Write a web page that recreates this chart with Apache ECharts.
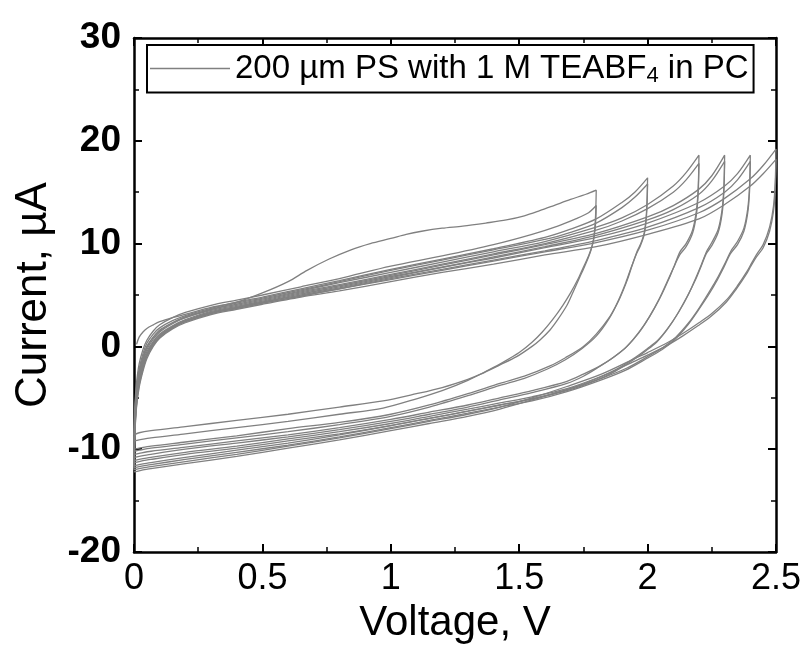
<!DOCTYPE html>
<html>
<head>
<meta charset="utf-8">
<script src="https://cdn.jsdelivr.net/npm/echarts@6/dist/echarts.min.js"></script>
<style>html,body{margin:0;padding:0;background:#fff;}#c{width:807px;height:657px;}</style>
</head>
<body>
<div id="c"></div>
<script>
// ---- data: [Voltage (V), Current (µA)] ----
const seriesName = '200 µm PS with 1 M TEABF4 in PC';
const xTicks = [0, 0.5, 1, 1.5, 2, 2.5];
const yTicks = [-20, -10, 0, 10, 20, 30];

const cycle18a = [[0.01,0.2],[0.02,0.9],[0.035,1.4],[0.05,1.75],[0.075,2.1],[0.1,2.4],[0.15,2.8],[0.21,3.2],[0.3,3.8],[0.4,4.3],[0.5,5.2],[0.6,6.3],[0.674,7.4],[0.76,8.5],[0.845,9.4],[0.92,10.0],[1.0,10.5],[1.06,10.9],[1.12,11.2],[1.2,11.5],[1.28,11.7],[1.37,12.0],[1.45,12.3],[1.52,12.7],[1.58,13.2],[1.635,13.7],[1.7,14.3],[1.76,14.8],[1.8,15.2],
 [1.797,12.5],[1.79,10.4],[1.78,9.4],[1.77,8.7],[1.75,7.5],[1.737,6.8],[1.71,5.3],[1.686,4.0],[1.65,2.6],[1.62,1.6],[1.58,0.6],[1.55,0],[1.49,-1.0],[1.425,-1.8],[1.35,-2.7],[1.3,-3.2],[1.2,-4.0],[1.1,-4.6],[0.97,-5.3],[0.8,-5.9],[0.6,-6.6],[0.4,-7.2],[0.2,-7.8],[0.066,-8.2],[0.02,-8.4],[0,-8.6]];
const cycle18b = [[0,-8.6],[0.004,-5.5],[0.01,-3.5],[0.02,-1.7],[0.035,-0.3],[0.05,0.6],[0.075,1.5],[0.1,2.1],[0.15,2.8],[0.2,3.3],[0.3,4.0],[0.4,4.5],[0.5,5.0],[0.65,5.8],[0.8,6.6],[1.0,7.8],[1.2,8.8],[1.4,9.9],[1.55,10.9],[1.65,11.7],[1.72,12.4],[1.77,13.0],[1.8,13.7],
 [1.796,11.5],[1.785,9.9],[1.77,8.8],[1.75,7.7],[1.73,6.6],[1.7,5.2],[1.67,4.0],[1.63,2.6],[1.59,1.4],[1.55,0.4],[1.5,-0.6],[1.44,-1.5],[1.38,-2.3],[1.3,-3.3],[1.2,-4.3],[1.1,-5.1],[0.97,-6.0],[0.8,-6.6],[0.6,-7.3],[0.4,-7.9],[0.2,-8.5],[0.066,-8.9],[0.02,-9.1],[0,-9.2]];
const cycle20a = [[0,-9.2],[0.004,-6.0],[0.01,-4.0],[0.02,-2.2],[0.035,-0.7],[0.05,0.3],[0.075,1.2],[0.1,1.8],[0.15,2.5],[0.2,3.0],[0.3,3.7],[0.4,4.3],[0.5,4.8],[0.65,5.6],[0.8,6.4],[1.0,7.5],[1.2,8.5],[1.4,9.5],[1.6,10.6],[1.7,11.4],[1.8,12.4],[1.9,14.0],[1.95,15.0],[2.0,16.4],
 [1.996,13.2],[1.988,11.2],[1.975,10.1],[1.96,9.3],[1.94,7.9],[1.92,6.4],[1.89,4.6],[1.853,2.9],[1.8,1.2],[1.75,0],[1.68,-1.1],[1.62,-1.9],[1.52,-2.9],[1.425,-3.6],[1.3,-4.6],[1.15,-5.7],[1.0,-6.6],[0.8,-7.4],[0.6,-8.0],[0.4,-8.7],[0.2,-9.3],[0.066,-9.7],[0.02,-9.9],[0,-10.0]];
const cycle20b = [[0,-10.0],[0.004,-6.5],[0.01,-4.3],[0.02,-2.5],[0.035,-1.0],[0.05,0.0],[0.075,0.9],[0.1,1.6],[0.15,2.3],[0.2,2.9],[0.3,3.6],[0.4,4.2],[0.5,4.7],[0.65,5.5],[0.8,6.3],[1.0,7.4],[1.2,8.4],[1.4,9.4],[1.6,10.4],[1.7,11.1],[1.8,12.0],[1.9,13.5],[1.95,14.5],[2.0,15.8],
 [1.996,12.8],[1.987,10.9],[1.972,9.8],[1.955,8.9],[1.935,7.6],[1.915,6.2],[1.885,4.4],[1.85,2.7],[1.8,1.0],[1.745,-0.2],[1.68,-1.3],[1.61,-2.2],[1.52,-3.1],[1.425,-3.8],[1.3,-4.8],[1.15,-5.9],[1.0,-6.8],[0.8,-7.6],[0.6,-8.3],[0.4,-8.9],[0.2,-9.5],[0.066,-9.9],[0.02,-10.1],[0,-10.2]];
const cycle22a = [[0,-10.2],[0.004,-6.8],[0.01,-4.6],[0.02,-2.7],[0.035,-1.1],[0.05,-0.1],[0.075,0.9],[0.1,1.5],[0.15,2.3],[0.2,2.8],[0.3,3.6],[0.4,4.1],[0.5,4.6],[0.65,5.4],[0.8,6.2],[1.0,7.2],[1.2,8.2],[1.4,9.2],[1.6,10.2],[1.8,11.6],[1.9,12.5],[2.0,13.8],[2.1,15.6],[2.15,16.9],[2.2,18.6],
 [2.197,15.4],[2.19,13.2],[2.175,11.3],[2.15,10.0],[2.126,9.2],[2.105,7.9],[2.087,6.8],[2.05,4.8],[2.01,3.0],[1.97,1.5],[1.92,0],[1.87,-1.0],[1.815,-1.9],[1.75,-2.7],[1.686,-3.4],[1.55,-4.3],[1.425,-5.0],[1.3,-5.7],[1.15,-6.4],[1.0,-7.1],[0.8,-7.9],[0.6,-8.6],[0.4,-9.2],[0.2,-9.8],[0.066,-10.2],[0.02,-10.4],[0,-10.5]];
const cycle22b = [[0,-10.5],[0.004,-7.0],[0.01,-4.8],[0.02,-2.9],[0.035,-1.3],[0.05,-0.3],[0.075,0.7],[0.1,1.4],[0.15,2.2],[0.2,2.8],[0.3,3.5],[0.4,4.0],[0.5,4.5],[0.65,5.3],[0.8,6.0],[1.0,7.0],[1.2,8.0],[1.4,9.0],[1.6,10.0],[1.8,11.3],[1.9,12.2],[2.0,13.4],[2.1,15.0],[2.15,16.2],[2.2,17.8],
 [2.197,14.9],[2.19,12.8],[2.175,11.0],[2.15,9.7],[2.125,8.9],[2.1,7.6],[2.08,6.5],[2.045,4.6],[2.005,2.8],[1.965,1.3],[1.915,-0.1],[1.865,-1.1],[1.81,-2.0],[1.75,-2.9],[1.686,-3.6],[1.55,-4.5],[1.425,-5.2],[1.3,-5.9],[1.15,-6.6],[1.0,-7.3],[0.8,-8.1],[0.6,-8.8],[0.4,-9.4],[0.2,-10.0],[0.066,-10.5],[0.02,-10.7],[0,-10.8]];
const cycle23a = [[0,-10.8],[0.004,-7.3],[0.01,-5.0],[0.02,-3.1],[0.035,-1.5],[0.05,-0.5],[0.075,0.5],[0.1,1.2],[0.15,2.0],[0.2,2.6],[0.3,3.4],[0.4,3.9],[0.5,4.4],[0.65,5.2],[0.8,5.9],[1.0,6.9],[1.2,7.9],[1.4,8.9],[1.6,9.9],[1.8,11.0],[2.0,12.6],[2.1,13.7],[2.2,15.3],[2.25,16.6],[2.3,18.6],
 [2.297,15.5],[2.29,13.3],[2.275,11.4],[2.25,10.1],[2.231,9.3],[2.21,8.0],[2.19,6.8],[2.16,5.1],[2.12,3.3],[2.08,1.8],[2.04,0.6],[2.0,-0.2],[1.95,-1.1],[1.88,-2.2],[1.8,-3.1],[1.686,-4.1],[1.55,-4.9],[1.425,-5.5],[1.3,-6.1],[1.15,-6.8],[1.0,-7.5],[0.8,-8.3],[0.6,-9.0],[0.4,-9.7],[0.2,-10.3],[0.066,-10.8],[0.02,-11.0],[0,-11.1]];
const cycle23b = [[0,-11.1],[0.004,-7.5],[0.01,-5.2],[0.02,-3.3],[0.035,-1.7],[0.05,-0.7],[0.075,0.4],[0.1,1.1],[0.15,1.9],[0.2,2.5],[0.3,3.3],[0.4,3.8],[0.5,4.3],[0.65,5.1],[0.8,5.8],[1.0,6.8],[1.2,7.7],[1.4,8.7],[1.6,9.7],[1.8,10.8],[2.0,12.3],[2.1,13.3],[2.2,14.8],[2.25,16.1],[2.3,18.0],
 [2.297,15.0],[2.29,12.9],[2.275,11.1],[2.25,9.8],[2.228,9.0],[2.207,7.7],[2.187,6.5],[2.155,4.9],[2.115,3.1],[2.075,1.6],[2.035,0.4],[1.995,-0.4],[1.945,-1.3],[1.875,-2.4],[1.8,-3.3],[1.686,-4.3],[1.55,-5.1],[1.425,-5.7],[1.3,-6.3],[1.15,-7.0],[1.0,-7.7],[0.8,-8.5],[0.6,-9.2],[0.4,-9.9],[0.2,-10.5],[0.066,-11.0],[0.02,-11.2],[0,-11.3]];
const cycle24a = [[0,-11.3],[0.004,-7.7],[0.01,-5.3],[0.02,-3.4],[0.035,-1.8],[0.05,-0.8],[0.075,0.3],[0.1,1.0],[0.15,1.9],[0.2,2.5],[0.3,3.3],[0.4,3.8],[0.5,4.3],[0.65,5.0],[0.8,5.7],[1.0,6.7],[1.2,7.7],[1.4,8.6],[1.6,9.6],[1.8,10.6],[2.0,12.0],[2.2,14.0],[2.3,15.6],[2.35,16.8],[2.4,18.6],
 [2.397,15.6],[2.39,13.4],[2.375,11.5],[2.35,10.2],[2.325,9.3],[2.3,8.0],[2.275,6.8],[2.24,5.3],[2.2,3.7],[2.16,2.3],[2.11,0.9],[2.06,-0.1],[2.0,-1.0],[1.92,-2.1],[1.82,-3.1],[1.686,-4.2],[1.55,-5.1],[1.425,-5.7],[1.3,-6.3],[1.15,-7.0],[1.0,-7.7],[0.8,-8.6],[0.6,-9.4],[0.4,-10.1],[0.2,-10.8],[0.066,-11.3],[0.02,-11.5],[0,-11.6]];
const cycle24b = [[0,-11.6],[0.004,-7.9],[0.01,-5.5],[0.02,-3.6],[0.035,-2.0],[0.05,-0.9],[0.075,0.2],[0.1,0.9],[0.15,1.8],[0.2,2.4],[0.3,3.2],[0.4,3.7],[0.5,4.2],[0.65,4.9],[0.8,5.6],[1.0,6.6],[1.2,7.5],[1.4,8.4],[1.6,9.3],[1.8,10.3],[2.0,11.6],[2.2,13.5],[2.3,15.0],[2.35,16.2],[2.4,18.0],
 [2.397,15.1],[2.39,13.0],[2.375,11.2],[2.35,9.9],[2.322,9.0],[2.297,7.7],[2.272,6.5],[2.237,5.0],[2.197,3.5],[2.157,2.1],[2.107,0.7],[2.057,-0.3],[1.995,-1.2],[1.915,-2.3],[1.815,-3.3],[1.686,-4.4],[1.55,-5.3],[1.425,-5.9],[1.3,-6.5],[1.15,-7.2],[1.0,-7.9],[0.8,-8.8],[0.6,-9.6],[0.4,-10.3],[0.2,-11.0],[0.066,-11.5],[0.02,-11.7],[0,-11.8]];
const cycle25a = [[0,-11.8],[0.004,-8.1],[0.01,-5.7],[0.02,-3.8],[0.035,-2.2],[0.05,-1.0],[0.075,0.1],[0.1,0.9],[0.15,1.8],[0.2,2.4],[0.3,3.2],[0.4,3.7],[0.5,4.2],[0.65,4.9],[0.8,5.6],[1.0,6.5],[1.2,7.4],[1.4,8.3],[1.6,9.2],[1.8,10.1],[2.0,11.3],[2.2,13.0],[2.3,14.4],[2.4,16.3],[2.45,17.6],[2.5,19.2],
 [2.497,16.0],[2.49,13.6],[2.475,11.6],[2.45,9.9],[2.426,9.0],[2.405,8.1],[2.387,7.3],[2.35,5.9],[2.31,4.6],[2.25,3.2],[2.2,2.3],[2.14,1.3],[2.08,0.4],[2.0,-0.6],[1.94,-1.3],[1.82,-2.7],[1.686,-3.9],[1.55,-5.0],[1.425,-5.9],[1.3,-6.6],[1.15,-7.3],[1.0,-8.0],[0.8,-8.9],[0.6,-9.7],[0.4,-10.5],[0.2,-11.2],[0.066,-11.7],[0.02,-11.9],[0,-12.0]];
const cycle25b = [[0,-12.0],[0.004,-8.3],[0.01,-5.9],[0.02,-4.0],[0.035,-2.4],[0.05,-1.2],[0.075,0.0],[0.1,0.8],[0.15,1.7],[0.2,2.3],[0.3,3.1],[0.4,3.6],[0.5,4.1],[0.65,4.8],[0.8,5.4],[1.0,6.3],[1.2,7.2],[1.4,8.0],[1.6,8.9],[1.8,9.7],[2.0,10.9],[2.2,12.4],[2.3,13.8],[2.4,15.6],[2.45,16.8],[2.5,18.2],
 [2.497,15.3],[2.49,13.1],[2.475,11.2],[2.45,9.6],[2.424,8.7],[2.402,7.8],[2.384,7.0],[2.346,5.6],[2.306,4.3],[2.246,2.9],[2.196,2.0],[2.136,1.0],[2.076,0.1],[1.996,-0.9],[1.936,-1.6],[1.816,-3.0],[1.686,-4.2],[1.55,-5.2],[1.425,-6.1],[1.3,-6.8],[1.15,-7.5],[1.0,-8.2],[0.8,-9.1],[0.6,-9.9],[0.4,-10.7],[0.2,-11.4],[0.066,-11.9],[0.02,-12.1],[0,-12.2]];

const cycles = [cycle18a, cycle18b, cycle20a, cycle20b, cycle22a, cycle22b, cycle23a, cycle23b, cycle24a, cycle24b, cycle25a, cycle25b];

const FONT = '"Liberation Sans", Arial, sans-serif';
const chart = echarts.init(document.getElementById('c'), null, {renderer: 'canvas'});

function axisCommon(min, max, interval) {
  return {
    type: 'value', min: min, max: max, interval: interval,
    axisLine: {show: true, onZero: false, lineStyle: {color: '#000', width: 2.5}},
    axisTick: {show: true, inside: true, length: 8, lineStyle: {color: '#000', width: 2}},
    minorTick: {show: true, splitNumber: 2, length: 5, lineStyle: {color: '#000', width: 1.5}},
    splitLine: {show: false}, minorSplitLine: {show: false}
  };
}

const option = {
  animation: false,
  backgroundColor: '#fff',
  grid: {left: 134, right: 31, top: 38, bottom: 105},
  legend: {
    show: true,
    left: 147, top: 45,
    data: [{name: seriesName, icon: 'rect'}],
    itemWidth: 80, itemHeight: 1.5,
    borderColor: '#000', borderWidth: 2, borderRadius: 0,
    padding: [7, 5, 6, 3],
    formatter: function () { return '{t|200 µm PS with 1 M TEABF}{s|4}{t| in PC}'; },
    textStyle: {
      color: '#000', fontFamily: FONT, fontSize: 33,
      rich: {
        t: {fontSize: 33, fontFamily: FONT, color: '#000'},
        s: {fontSize: 22, fontFamily: FONT, color: '#000', verticalAlign: 'bottom', padding: [14, 0, 0, 0]}
      }
    }
  },
  xAxis: [
    Object.assign(axisCommon(xTicks[0], xTicks[xTicks.length - 1], 0.5), {
      position: 'bottom',
      axisLabel: {show: true, color: '#000', fontFamily: FONT, fontSize: 36, margin: 9,
        formatter: function (v) { return String(v); }},
      name: 'Voltage, V', nameLocation: 'middle', nameGap: 50,
      nameTextStyle: {color: '#000', fontFamily: FONT, fontSize: 42}
    }),
    Object.assign(axisCommon(xTicks[0], xTicks[xTicks.length - 1], 0.5), {
      position: 'top', axisLabel: {show: false}
    })
  ],
  yAxis: [
    Object.assign(axisCommon(yTicks[0], yTicks[yTicks.length - 1], 10), {
      position: 'left',
      axisLabel: {show: true, color: '#000', fontFamily: FONT, fontSize: 37, fontWeight: 'bold', margin: 13},
      name: 'Current, µA', nameLocation: 'middle', nameGap: 78,
      nameTextStyle: {color: '#000', fontFamily: FONT, fontSize: 44}
    }),
    Object.assign(axisCommon(yTicks[0], yTicks[yTicks.length - 1], 10), {
      position: 'right', axisLabel: {show: false}
    })
  ],
  series: cycles.map(function (d) {
    return {
      name: seriesName, type: 'line', data: d, xAxisIndex: 0, yAxisIndex: 0,
      showSymbol: false, symbol: 'none', smooth: 0.3,
      lineStyle: {color: '#808080', width: 1.3}, itemStyle: {color: '#808080'},
      clip: true
    };
  })
};
chart.setOption(option);
</script>
</body>
</html>
